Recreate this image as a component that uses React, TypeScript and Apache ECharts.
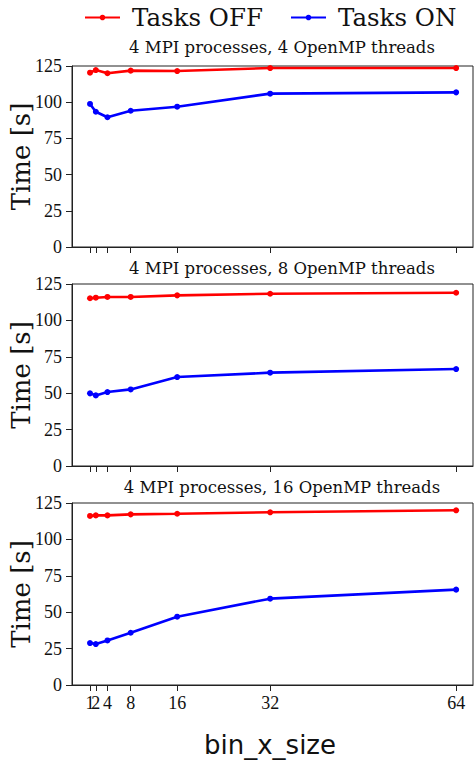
import React, { useEffect, useRef } from "react";
import * as echarts from "echarts";

const bins = [1, 2, 4, 8, 16, 32, 64];
const titles = [
  "4 MPI processes, 4 OpenMP threads",
  "4 MPI processes, 8 OpenMP threads",
  "4 MPI processes, 16 OpenMP threads",
];
const off4 = [120.4, 122.2, 120.0, 121.8, 121.5, 123.6, 123.6];
const on4 = [98.8, 93.4, 89.6, 94.1, 96.9, 105.9, 106.8];
const off8 = [115.2, 115.6, 116.1, 116.1, 117.2, 118.3, 119.0];
const on8 = [49.9, 48.5, 50.8, 52.6, 61.1, 64.1, 66.6];
const off16 = [116.1, 116.5, 116.5, 117.2, 117.6, 118.6, 120.0];
const on16 = [28.8, 28.1, 30.6, 35.9, 46.9, 59.3, 65.5];

const offSets = [off4, off8, off16];
const onSets = [on4, on8, on16];

const SERIF = "'DejaVu Serif', serif";
const TICKFONT = "'Liberation Serif', serif";

export default function App() {
  const ref = useRef<HTMLDivElement>(null);
  useEffect(() => {
    document.body.style.margin = "0";
    const chart = echarts.init(ref.current!, undefined, { renderer: "svg" });
    const gridTops = [66, 284, 503];
    const gridH = [181, 182, 182];
    const grids = gridTops.map((t, i) => ({
      left: 72,
      width: 401,
      top: t,
      height: gridH[i],
      show: true,
      borderColor: "#222",
      borderWidth: 1,
      backgroundColor: "transparent",
      outerBoundsMode: "none",
    }));
    const labelStyle = {
      fontFamily: TICKFONT,
      fontSize: 18,
      color: "#111",
      margin: 9,
      hideOverlap: false,
    };
    // labels 1, 4, 8, ... on the main axis; the "2" label on an overlaid axis
    const mainLabelValues = bins.filter((_, k) => k !== 1);
    const extraLabelValues = [bins[1]];
    const xAxes: any[] = gridTops.map((_, i) => ({
      type: "value",
      gridIndex: i,
      min: -2.1,
      max: 66.9,
      splitLine: { show: false },
      axisLine: { onZero: false, lineStyle: { color: "#222" } },
      axisTick: {
        show: true,
        customValues: bins,
        length: 6,
        lineStyle: { color: "#222" },
      },
      axisLabel: {
        show: i === 2,
        customValues: mainLabelValues,
        ...labelStyle,
      },
    }));
    xAxes.push({
      type: "value",
      gridIndex: 2,
      position: "bottom",
      min: -2.1,
      max: 66.9,
      splitLine: { show: false },
      axisLine: { show: false, onZero: false },
      axisTick: { show: false },
      axisLabel: { show: true, customValues: extraLabelValues, ...labelStyle },
    });
    const yAxes = gridTops.map((_, i) => ({
      type: "value",
      gridIndex: i,
      position: "left",
      min: 0,
      max: 125,
      interval: 25,
      splitLine: { show: false },
      axisLine: { show: true, onZero: false, lineStyle: { color: "#222" } },
      axisTick: { show: true, length: 6, lineStyle: { color: "#222" } },
      axisLabel: {
        fontFamily: TICKFONT,
        fontSize: 18,
        color: "#111",
        margin: 10,
      },
      name: "Time [s]",
      nameLocation: "middle",
      nameGap: 38,
      nameMoveOverlap: false,
      nameRotate: 90,
      nameTextStyle: { fontFamily: SERIF, fontSize: 26, color: "#111" },
    }));
    const series: any[] = [];
    gridTops.forEach((_, i) => {
      series.push({
        name: "Tasks OFF",
        type: "line",
        xAxisIndex: i,
        yAxisIndex: i,
        data: bins.map((b, k) => [b, offSets[i][k]]),
        color: "#ff0000",
        lineStyle: { width: 2.6, color: "#ff0000" },
        itemStyle: { color: "#ff0000" },
        symbol: "circle",
        symbolSize: 6,
      });
      series.push({
        name: "Tasks ON",
        type: "line",
        xAxisIndex: i,
        yAxisIndex: i,
        data: bins.map((b, k) => [b, onSets[i][k]]),
        color: "#0000ff",
        lineStyle: { width: 2.6, color: "#0000ff" },
        itemStyle: { color: "#0000ff" },
        symbol: "circle",
        symbolSize: 6,
      });
    });
    const legendBase = {
      top: 0,
      itemWidth: 35,
      itemHeight: 7,
      textStyle: {
        fontFamily: SERIF,
        fontSize: 24.5,
        color: "#111",
        padding: [0, 0, 0, 7],
      },
    };
    const titleY = [47, 268, 487];
    chart.setOption({
      animation: false,
      legend: [
        { ...legendBase, left: 79, data: ["Tasks OFF"] },
        { ...legendBase, left: 285, data: ["Tasks ON"] },
      ],
      grid: grids,
      xAxis: xAxes,
      yAxis: yAxes,
      series,
      graphic: [
        ...titles.map((t, i) => ({
          type: "text",
          x: 282,
          y: titleY[i],
          style: {
            text: t,
            fontFamily: SERIF,
            fontSize: 16.5,
            fill: "#111",
            textAlign: "center",
            textVerticalAlign: "middle",
          },
        })),
        {
          type: "text",
          x: 270,
          y: 745,
          style: {
            text: "bin_x_size",
            fontFamily: "'DejaVu Sans', sans-serif",
            fontSize: 26,
            fill: "#111",
            textAlign: "center",
            textVerticalAlign: "middle",
          },
        },
      ],
    });
    return () => chart.dispose();
  }, []);
  return (
    <div
      ref={ref}
      style={{ width: 474, height: 760, position: "absolute", left: 0, top: 0 }}
    />
  );
}
